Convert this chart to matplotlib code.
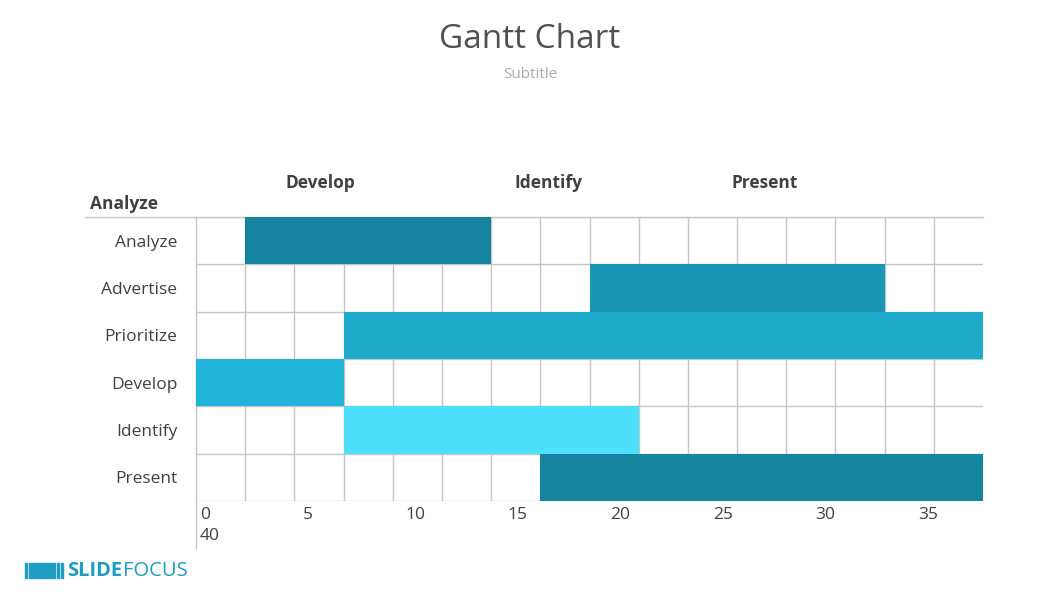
import matplotlib.pyplot as plt
from matplotlib.patches import Rectangle
from matplotlib.lines import Line2D

plt.rcParams['font.family'] = ['Open Sans', 'DejaVu Sans']

tasks = ["Analyze", "Advertise", "Prioritize", "Develop", "Identify", "Present"]
starts = [2.5, 20, 7.5, 0, 7.5, 17.5]
durations = [12.5, 15, 32.5, 7.5, 15, 22.5]
colors = ["#1583a0", "#1a96b5", "#1eaacb", "#20b4d8", "#4de0fd", "#15849f"]
phases = ["Analyze", "Develop", "Identify", "Present"]
tick_vals = [0, 5, 10, 15, 20, 25, 30, 35]

txt = "#404040"
gridc = "#c4c4c4"

fig = plt.figure(figsize=(10.6, 5.96), dpi=100)
ax = fig.add_axes([196/1060, 1-501/596, 787/1060, 284/596])

ypos = list(range(len(tasks)))
ax.barh(ypos, durations, left=starts, height=1.0, color=colors, zorder=3)

# grid
for i in range(1, 16):
    ax.axvline(i*2.5, color=gridc, lw=1, zorder=1)
for j in range(len(tasks)+1):
    ax.axhline(j-0.5, color=gridc, lw=1, zorder=1)

ax.set_xlim(0, 40)
ax.set_ylim(len(tasks)-0.5, -0.5)
for s in ax.spines.values():
    s.set_visible(False)
ax.set_xticks([])
ax.set_yticks(ypos)
ax.set_yticklabels(tasks, fontsize=12.5, color=txt)
ax.tick_params(axis='y', length=0, pad=13.5)

# left axis line extending below, top line extending left
ax.add_line(Line2D([0, 0], [-0.165, 1], transform=ax.transAxes, color=gridc, lw=1, clip_on=False))
ax.add_line(Line2D([-0.141, 1], [1, 1], transform=ax.transAxes, color=gridc, lw=1, clip_on=False))

# wrapped x tick labels
for i, v in enumerate(tick_vals):
    ax.text(0.2 + i*5.215, -0.048, str(v), transform=ax.get_xaxis_transform(),
            ha='left', va='center', fontsize=12.5, color=txt)
ax.text(0.2, -0.125, "40", transform=ax.get_xaxis_transform(),
        ha='left', va='center', fontsize=12.5, color=txt)

# phase header
fig.text(90/1060, 1-204/596, phases[0], ha='left', va='center', fontsize=12.5, fontweight='bold', color=txt)
for x, p in zip([320, 549, 765], phases[1:]):
    fig.text(x/1060, 1-183/596, p, ha='center', va='center', fontsize=12.5, fontweight='bold', color=txt)

fig.text(0.5, 1-39/596, "Gantt Chart", ha='center', va='center', fontsize=24, color="#505050")
fig.text(0.5, 1-74/596, "Subtitle", ha='center', va='center', fontsize=11, color="#aaaaaa")

# logo
logo = "#1e9cc4"
for x0, w in [(25, 2.3), (29.3, 2.3), (33.3, 21.7), (56.7, 2.3), (60.7, 2.3)]:
    fig.patches.append(Rectangle((x0/1060, 1-578/596), w/1060, 15/596,
                                 transform=fig.transFigure, color=logo))
t1 = fig.text(67/1060, 1-570.5/596, "SLIDE", ha='left', va='center', fontsize=14.5,
              fontweight='bold', color=logo)
fig.canvas.draw()
bb = t1.get_window_extent()
fig.text(bb.x1/1060 + 0.5/1060, 1-570.5/596, "FOCUS", ha='left', va='center', fontsize=14.5, color=logo)

fig.savefig("out.png", dpi=100)
